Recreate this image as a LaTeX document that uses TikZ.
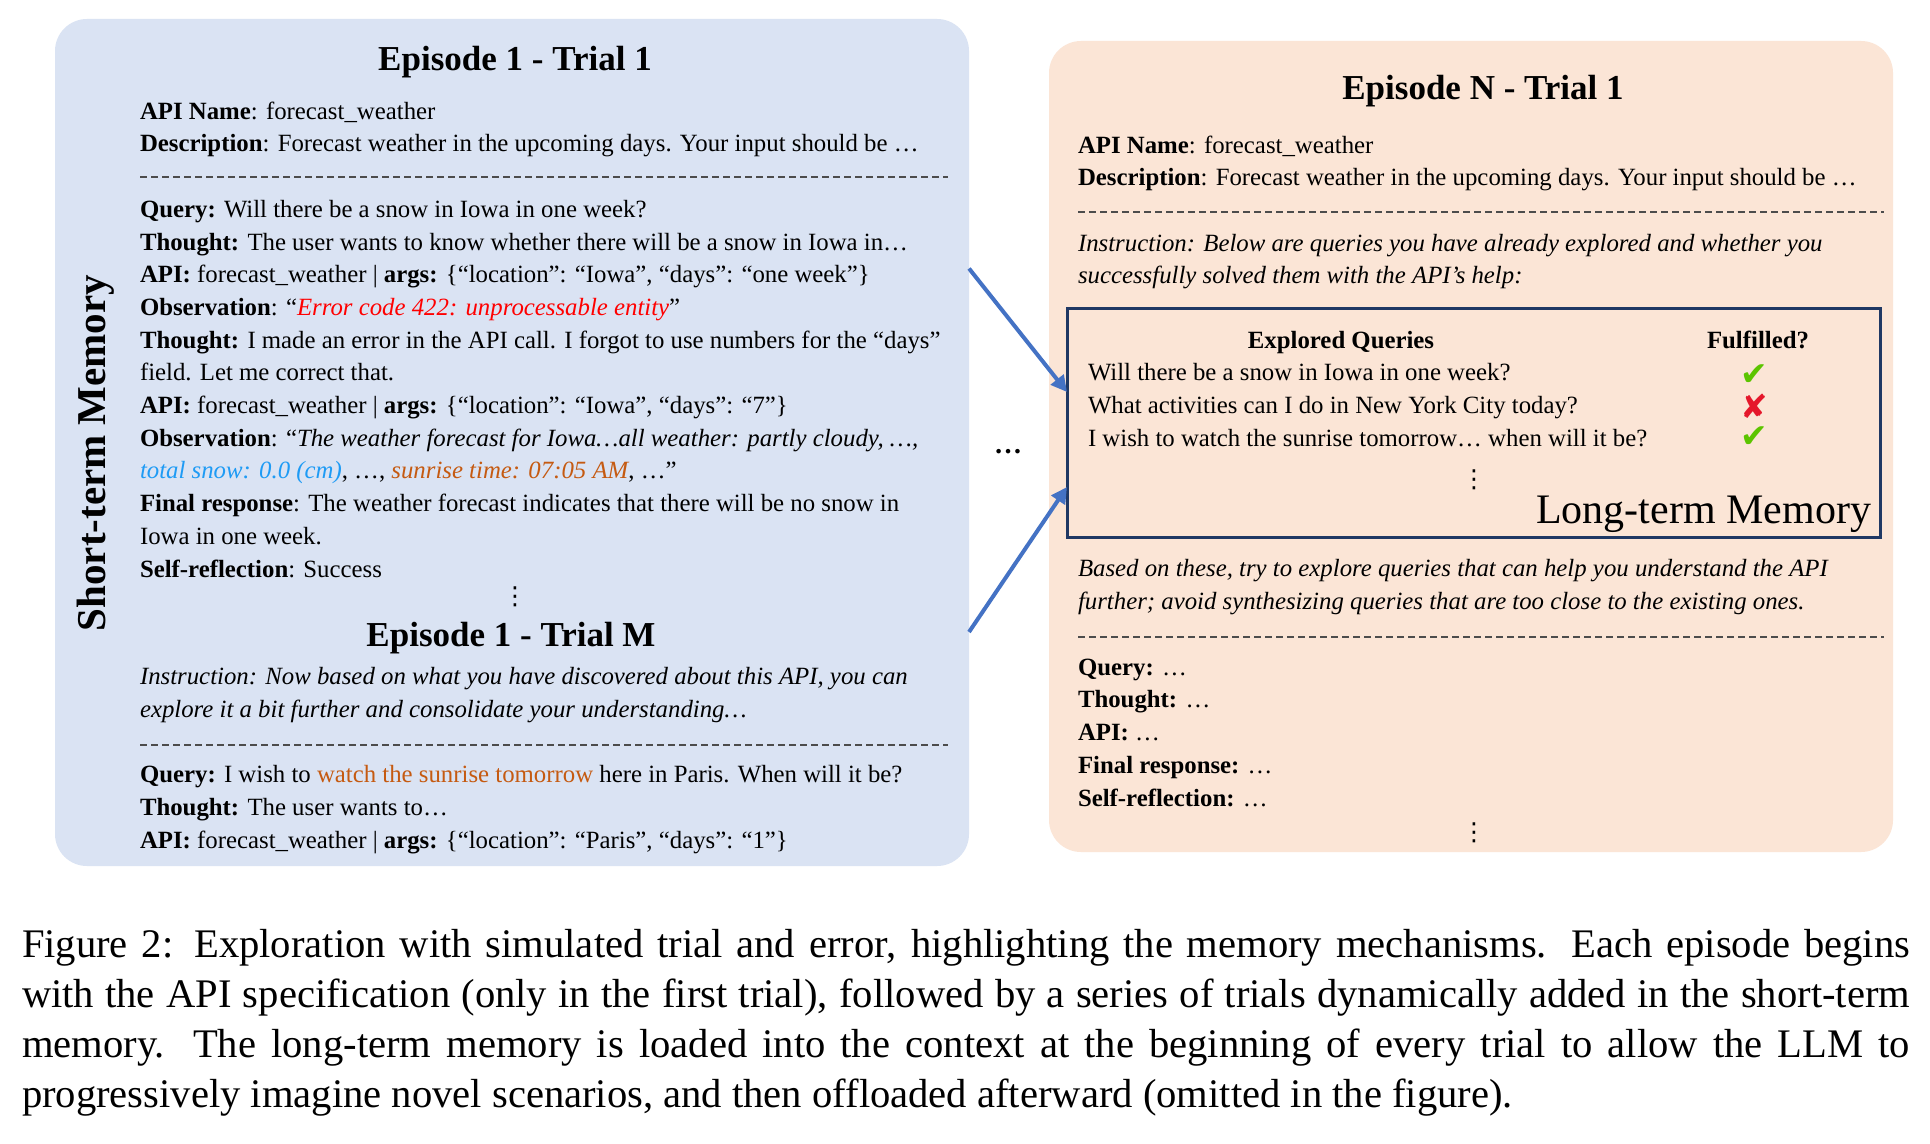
\documentclass[tikz,border=0pt]{standalone}
\usepackage{fontspec}
\setmainfont{Liberation Serif}
\newfontfamily\markfont{DejaVu Sans}
\usetikzlibrary{positioning, arrows.meta}

\definecolor{stmfill}{HTML}{DAE3F3}
\definecolor{ltmfill}{HTML}{FBE5D6}
\definecolor{linkblue}{HTML}{4472C4}
\definecolor{ltmedge}{HTML}{1F3864}
\definecolor{errred}{HTML}{FF0000}
\definecolor{snowblue}{HTML}{1E9BF5}
\definecolor{sunorange}{HTML}{C55A11}
\definecolor{okgreen}{HTML}{5CC400}
\definecolor{nored}{HTML}{E5172B}

\newcommand\txtfont{\fontsize{12.4pt}{16.35pt}\selectfont}

\begin{document}
\begin{tikzpicture}[x=0.5pt, y=-0.5pt,
  every node/.style={inner sep=0pt, outer sep=0pt},
  pane/.style={rounded corners=16pt, anchor=north west},
  ttl/.style={anchor=base, font=\fontsize{17.5pt}{21pt}\selectfont\bfseries},
  txt/.style={anchor=base west, align=left, font=\txtfont},
  sep/.style={draw=black!70, line width=0.6pt, dash pattern=on 3.5pt off 2pt},
  link/.style={-{Triangle[length=8pt, width=8pt]}, line width=2pt, linkblue},
  fulfil/.style={font=\markfont\fontsize{16.5pt}{16.5pt}\selectfont},
  more/.style={font=\markfont\fontsize{12.4pt}{12.4pt}\selectfont},
]
  \useasboundingbox[fill=white] (0,0) rectangle (1930,1144);

  % short-term memory pane
  \node[pane, fill=stmfill, minimum width=457pt, minimum height=423.5pt] (stm) at (55,19) {};
  \node[rotate=90, font=\fontsize{20.5pt}{24pt}\selectfont\bfseries] (stmlabel) at (96,453) {Short-term Memory};

  % multi-line nodes sit on the baseline of their last line
  \node[ttl] (titleA) at (515,71) {Episode 1 - Trial 1};
  \node[txt] (specA) at (140,152) {\textbf{API Name}: forecast\_weather\\
    \textbf{Description}: Forecast weather in the upcoming days. Your input should be …};
  \draw[sep] (140,177) -- (948,177);
  \node[txt] (trialA) at (140,577) {\textbf{Query:} Will there be a snow in Iowa in one week?\\
    \textbf{Thought:} The user wants to know whether there will be a snow in Iowa in…\\
    \textbf{API:} forecast\_weather | \textbf{args:} \{“location”: “Iowa”, “days”: “one week”\}\\
    \textbf{Observation}: “\textit{\color{errred}Error code 422: unprocessable entity}”\\
    \textbf{Thought:} I made an error in the API call. I forgot to use numbers for the “days”\\
    field. Let me correct that.\\
    \textbf{API:} forecast\_weather | \textbf{args:} \{“location”: “Iowa”, “days”: “7”\}\\
    \textbf{Observation}: “\textit{The weather forecast for Iowa…all weather: partly cloudy, …,}\\
    \textit{\color{snowblue}total snow: 0.0 (cm)}, …, \textit{\color{sunorange}sunrise time: 07:05 AM}, …”\\
    \textbf{Final response}: The weather forecast indicates that there will be no snow in\\
    Iowa in one week.\\
    \textbf{Self-reflection}: Success};
  \node[more] (moreA) at (515,597) {⋮};

  \node[ttl] (titleM) at (511,646) {Episode 1 - Trial M};
  \node[txt, font=\txtfont\itshape] (instrM) at (140,717) {Instruction: Now based on what you have discovered about this API, you can\\
    explore it a bit further and consolidate your understanding…};
  \draw[sep] (140,745) -- (948,745);
  \node[txt] (trialM) at (140,848) {\textbf{Query:} I wish to {\color{sunorange}watch the sunrise tomorrow} here in Paris. When will it be?\\
    \textbf{Thought:} The user wants to…\\
    \textbf{API:} forecast\_weather | \textbf{args:} \{“location”: “Paris”, “days”: “1”\}};

  % episode N pane
  \node[pane, fill=ltmfill, minimum width=422pt, minimum height=405.5pt] (epN) at (1049,41) {};
  \node[ttl] (titleN) at (1483,100) {Episode N - Trial 1};
  \node[txt] (specN) at (1078,186) {\textbf{API Name}: forecast\_weather\\
    \textbf{Description}: Forecast weather in the upcoming days. Your input should be …};
  \draw[sep] (1078,212) -- (1884,212);
  \node[txt, font=\txtfont\itshape] (instrN) at (1078,284) {Instruction: Below are queries you have already explored and whether you\\
    successfully solved them with the API’s help:};

  % long-term memory box
  \node[pane, rounded corners=0pt, draw=ltmedge, line width=1.5pt, minimum width=406.5pt, minimum height=114pt] (ltm) at (1067,309) {};
  \node[anchor=base, font=\txtfont\bfseries] (qhead) at (1341,349) {Explored Queries};
  \node[anchor=base, font=\txtfont\bfseries] (fhead) at (1758,349) {Fulfilled?};
  \node[txt] (queries) at (1088,446) {Will there be a snow in Iowa in one week?\\
    What activities can I do in New York City today?\\
    I wish to watch the sunrise tomorrow… when will it be?};
  \node[fulfil, okgreen] (ok1) at (1754,375) {✔};
  \node[fulfil, nored]   (no2) at (1754,406) {✘};
  \node[fulfil, okgreen] (ok3) at (1754,437) {✔};
  \node[more] (moreQ) at (1474,480) {⋮};
  \node[anchor=base east, font=\fontsize{21pt}{24pt}\selectfont] (ltmlabel) at (1871,523) {Long-term Memory};

  \node[txt, font=\txtfont\itshape] (basedN) at (1078,609) {Based on these, try to explore queries that can help you understand the API\\
    further; avoid synthesizing queries that are too close to the existing ones.};
  \draw[sep] (1078,637) -- (1884,637);
  \node[txt] (trialN) at (1078,806) {\textbf{Query:} …\\
    \textbf{Thought:} …\\
    \textbf{API:} …\\
    \textbf{Final response:} …\\
    \textbf{Self-reflection:} …};
  \node[more] (moreN) at (1474,833) {⋮};

  % memory links
  \node[font=\fontsize{14pt}{14pt}\selectfont\bfseries] (gap) at (1008,452) {…};
  \draw[link] ([yshift=87pt]stm.east) -- ([yshift=15.5pt]ltm.west);
  \draw[link] ([yshift=-94.75pt]stm.east) -- ([yshift=-32pt]ltm.west);

  % caption
  \node[anchor=base west, text width=944pt, align=justify, font=\fontsize{20.3pt}{25pt}\selectfont] (cap) at (22,957)
    {Figure 2: Exploration with simulated trial and error, highlighting the memory mechanisms. Each episode begins\linebreak
    with the API specification (only in the first trial), followed by a series of trials dynamically added in the short-term\linebreak
    memory.  The long-term memory is loaded into the context at the beginning of every trial to allow the LLM to\linebreak
    progressively imagine novel scenarios, and then offloaded afterward (omitted in the figure).};
\end{tikzpicture}
\end{document}
